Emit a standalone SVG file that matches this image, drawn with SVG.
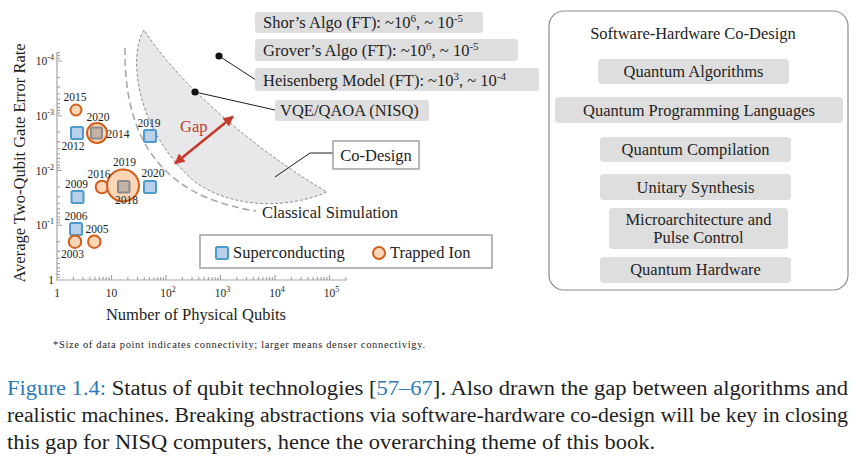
<svg xmlns="http://www.w3.org/2000/svg" width="855" height="467" viewBox="0 0 855 467" font-family="Liberation Serif, DejaVu Serif, serif">
<style>
text{font-family:"Liberation Serif","DejaVu Serif",serif;fill:#1e1e1e}
.yr{font-size:11.5px;text-anchor:middle}
.tk{font-size:11.5px}
.lab{font-size:16.5px}
.pan{font-size:16.5px;text-anchor:middle}
.gbox{fill:#dedede}
.sc{fill:#b8d0ea;stroke:#4b9bcc;stroke-width:2}
.gs{fill:#c3b2a6;stroke:#8a8a8a;stroke-width:2}
.ti{fill:#fdd6b7;stroke:#d05f1c;stroke-width:2}
.ax{stroke:#a5a5a5;stroke-width:1.2;fill:none}
.lead{stroke:#1e1e1e;stroke-width:1;fill:none}
.blue{fill:#2b7bba}
</style>
<defs>
<marker id="ah" viewBox="0 0 10 10" refX="9" refY="5" markerWidth="4" markerHeight="4" orient="auto-start-reverse">
<path d="M0,0 L10,5 L0,10 Z" fill="#c63a2c"/>
</marker>
</defs>
<rect width="855" height="467" fill="#ffffff"/>

<g id="axes">
<path class="ax" d="M57,52 V280 H347"/>
<path class="ax" stroke-width="0.8" d="M57,58.5h3M57,55.6h3M57,52.6h3M57,61h5M57,77.5h3M57,87.1h3M57,94h3M57,99.3h3M57,103.6h3M57,107.3h3M57,110.4h3M57,113.2h3M57,115.75h5M57,132.2h3M57,141.9h3M57,148.7h3M57,154h3M57,158.4h3M57,162h3M57,165.2h3M57,167.9h3M57,170.5h5M57,187h3M57,196.6h3M57,203.5h3M57,208.8h3M57,213.1h3M57,216.8h3M57,219.9h3M57,222.7h3M57,225.25h5M57,241.7h3M57,251.4h3M57,258.2h3M57,263.5h3M57,267.9h3M57,271.5h3M57,274.7h3M57,277.5h3"/>
<path class="ax" stroke-width="0.8" d="M73.4,280v-3M83,280v-3M89.8,280v-3M95.1,280v-3M99.4,280v-3M103.1,280v-3M106.2,280v-3M109,280v-3M111.5,280v-5M127.9,280v-3M137.5,280v-3M144.3,280v-3M149.6,280v-3M153.9,280v-3M157.6,280v-3M160.7,280v-3M163.5,280v-3M166,280v-5M182.4,280v-3M192,280v-3M198.8,280v-3M204.1,280v-3M208.4,280v-3M212.1,280v-3M215.2,280v-3M218,280v-3M220.5,280v-5M236.9,280v-3M246.5,280v-3M253.3,280v-3M258.6,280v-3M262.9,280v-3M266.6,280v-3M269.7,280v-3M272.5,280v-3M275,280v-5M291.4,280v-3M301,280v-3M307.8,280v-3M313.1,280v-3M317.4,280v-3M321.1,280v-3M324.2,280v-3M327,280v-3M329.5,280v-5M345.9,280v-3"/>
<text class="tk" x="54" y="65" text-anchor="end">10<tspan dy="-5" font-size="8">-4</tspan></text>
<text class="tk" x="54" y="120" text-anchor="end">10<tspan dy="-5" font-size="8">-3</tspan></text>
<text class="tk" x="54" y="174.5" text-anchor="end">10<tspan dy="-5" font-size="8">-2</tspan></text>
<text class="tk" x="54" y="229" text-anchor="end">10<tspan dy="-5" font-size="8">-1</tspan></text>
<text class="tk" x="54" y="284" text-anchor="end">1</text>
<text class="tk" x="57" y="297" text-anchor="middle">1</text>
<text class="tk" x="111.5" y="297" text-anchor="middle">10</text>
<text class="tk" x="160.2" y="297">10<tspan dy="-5" font-size="8">2</tspan></text>
<text class="tk" x="214.7" y="297">10<tspan dy="-5" font-size="8">3</tspan></text>
<text class="tk" x="269.2" y="297">10<tspan dy="-5" font-size="8">4</tspan></text>
<text class="tk" x="323.7" y="297">10<tspan dy="-5" font-size="8">5</tspan></text>
<text class="lab" x="196" y="320" text-anchor="middle">Number of Physical Qubits</text>
<text class="lab" transform="translate(25,163) rotate(-90)" text-anchor="middle">Average Two-Qubit Gate Error Rate</text>
</g>

<g id="regions">
<path d="M144,30 C128,55 135,130 195,182 C235,210 290,208 327,192 C280,165 190,100 144,30 Z" fill="#e8e7ea" stroke="#8e8e8e" stroke-width="1" stroke-dasharray="3,2"/>
<path d="M125,48 C124,125 150,195 256,211" fill="none" stroke="#a8a8a8" stroke-width="1.6" stroke-dasharray="7,4"/>
<text class="lab" x="262" y="218">Classical Simulation</text>
</g>

<g id="connectors">
<line x1="175" y1="163.5" x2="233" y2="116.5" stroke="#c63a2c" stroke-width="2.6" marker-start="url(#ah)" marker-end="url(#ah)"/>
<path class="lead" d="M219,56 L256,80"/>
<path class="lead" d="M195,92 L275,110"/>
<path class="lead" d="M275,177 L310,153 H333"/>
<circle cx="219" cy="56" r="3.6" fill="#111"/>
<circle cx="195" cy="92" r="3.6" fill="#111"/>
</g>
<text id="gap" x="180" y="132" font-size="16.5" style="fill:#c63a2c">Gap</text>

<g id="data-points">
<rect class="sc" x="71" y="127" width="12" height="12" rx="1.5"/>
<circle class="ti" cx="76" cy="110" r="5.5"/>
<circle class="ti" cx="97" cy="133" r="10"/>
<rect class="gs" x="91" y="127.5" width="11" height="11" rx="1.5"/>
<rect class="sc" x="144" y="130" width="12" height="12" rx="1.5"/>
<circle class="ti" cx="102" cy="187" r="6.3"/>
<circle class="ti" cx="123" cy="185.5" r="16"/>
<rect class="gs" x="118" y="181" width="11.5" height="11.5" rx="1.5"/>
<rect class="sc" x="144" y="181" width="12" height="12" rx="1.5"/>
<rect class="sc" x="71.5" y="191" width="12" height="12" rx="1.5"/>
<rect class="sc" x="70" y="223" width="12" height="12" rx="1.5"/>
<circle class="ti" cx="75" cy="241.7" r="6.2"/>
<circle class="ti" cx="94.3" cy="241.7" r="6.2"/>
<text class="yr" x="75" y="101">2015</text>
<text class="yr" x="98" y="121">2020</text>
<text class="yr" x="118" y="138">2014</text>
<text class="yr" x="73" y="150">2012</text>
<text class="yr" x="149" y="127">2019</text>
<text class="yr" x="124.5" y="166">2019</text>
<text class="yr" x="99" y="178">2016</text>
<text class="yr" x="153" y="177">2020</text>
<text class="yr" x="76.5" y="188">2009</text>
<text class="yr" x="126.5" y="204">2018</text>
<text class="yr" x="76" y="220">2006</text>
<text class="yr" x="97" y="233">2005</text>
<text class="yr" x="72.5" y="258">2003</text>
</g>

<g id="shor">
<rect class="gbox" x="255" y="12" width="228" height="21" rx="3"/>
<text class="lab" x="263" y="28">Shor’s Algo (FT): ~10<tspan dy="-6.5" font-size="11">6</tspan><tspan dy="6.5">, ~ 10</tspan><tspan dy="-6.5" font-size="11">-5</tspan></text>
</g>
<g id="grover">
<rect class="gbox" x="255" y="39" width="263" height="22" rx="3"/>
<text class="lab" x="263" y="56">Grover’s Algo (FT): ~10<tspan dy="-6.5" font-size="11">6</tspan><tspan dy="6.5">, ~ 10</tspan><tspan dy="-6.5" font-size="11">-5</tspan></text>
</g>
<g id="heisenberg">
<rect class="gbox" x="255" y="68" width="284" height="23" rx="3"/>
<text class="lab" x="263" y="86">Heisenberg Model (FT): ~10<tspan dy="-6.5" font-size="11">3</tspan><tspan dy="6.5">, ~ 10</tspan><tspan dy="-6.5" font-size="11">-4</tspan></text>
</g>
<g id="vqe">
<rect class="gbox" x="275" y="100" width="154" height="21" rx="3"/>
<text class="lab" x="280" y="116">VQE/QAOA (NISQ)</text>
</g>
<g id="codesign">
<rect x="333" y="141" width="86" height="28" fill="#ffffff" stroke="#9a9a9a" stroke-width="1.4"/>
<text class="lab" x="376" y="161" text-anchor="middle">Co-Design</text>
</g>

<g id="legend">
<rect x="200" y="235" width="292" height="33" fill="#ffffff" stroke="#a0a0a0" stroke-width="1.5"/>
<rect class="sc" x="216" y="247" width="12" height="12" rx="1.5"/>
<text x="233" y="258" font-size="16.5">Superconducting</text>
<circle class="ti" cx="379" cy="253" r="6"/>
<text x="390" y="258" font-size="16.5">Trapped Ion</text>
</g>

<text id="footnote" x="53" y="348" font-size="10.5" textLength="372">*Size of data point indicates connectivity; larger means denser connectivigy.</text>

<g id="codesign-panel">
<rect x="549" y="11" width="299" height="279" rx="15" fill="#ffffff" stroke="#8c8c8c" stroke-width="1.2"/>
<text class="pan" x="693" y="39">Software-Hardware Co-Design</text>
</g>
<g id="p-algorithms">
<rect class="gbox" x="598" y="59" width="191" height="25" rx="4"/>
<text class="pan" x="693.5" y="77">Quantum Algorithms</text>
</g>
<g id="p-languages">
<rect class="gbox" x="555" y="97" width="288" height="26" rx="4"/>
<text class="pan" x="699" y="116">Quantum Programming Languages</text>
</g>
<g id="p-compilation">
<rect class="gbox" x="600" y="137" width="191" height="25" rx="4"/>
<text class="pan" x="695.5" y="155">Quantum Compilation</text>
</g>
<g id="p-synthesis">
<rect class="gbox" x="600" y="174" width="191" height="26" rx="4"/>
<text class="pan" x="695.5" y="193">Unitary Synthesis</text>
</g>
<g id="p-micro">
<rect class="gbox" x="609" y="208" width="179" height="41" rx="4"/>
<text class="pan" x="698.5" y="225">Microarchitecture and</text>
<text class="pan" x="698.5" y="243">Pulse Control</text>
</g>
<g id="p-hardware">
<rect class="gbox" x="600" y="257" width="191" height="26" rx="4"/>
<text class="pan" x="695.5" y="275">Quantum Hardware</text>
</g>

<g id="caption" font-size="20">
<text x="7" y="395" textLength="841" lengthAdjust="spacingAndGlyphs"><tspan class="blue">Figure 1.4:</tspan> Status of qubit technologies [<tspan class="blue">57–67</tspan>]. Also drawn the gap between algorithms and</text>
<text x="7" y="422" textLength="841" lengthAdjust="spacingAndGlyphs">realistic machines. Breaking abstractions via software-hardware co-design will be key in closing</text>
<text x="7" y="449" textLength="648" lengthAdjust="spacingAndGlyphs">this gap for NISQ computers, hence the overarching theme of this book.</text>
</g>
</svg>
